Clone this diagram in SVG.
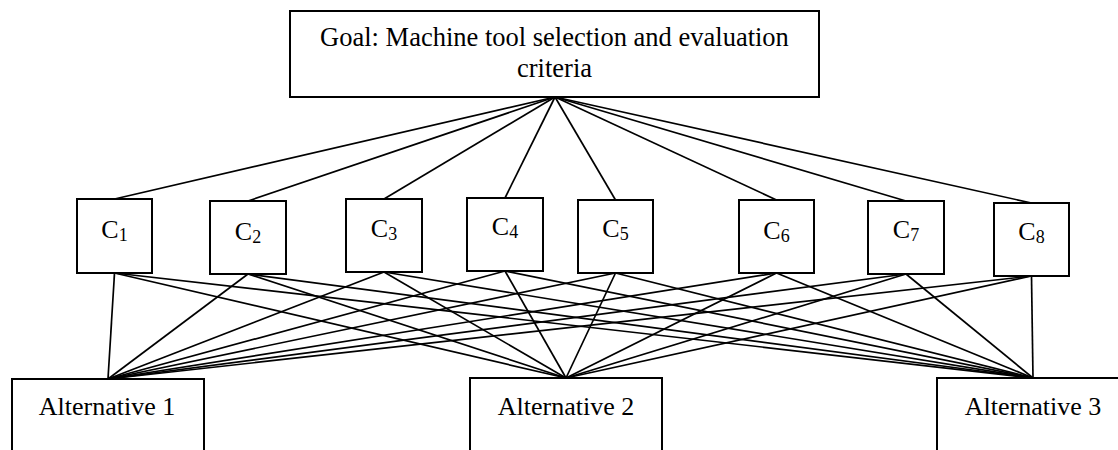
<svg xmlns="http://www.w3.org/2000/svg" width="1118" height="450" viewBox="0 0 1118 450">
<style>
.box{fill:#fff;stroke:#000;stroke-width:2}
.t{font-family:"Liberation Serif","Times New Roman",serif;fill:#000;text-anchor:middle}
.g{font-size:26.5px}
.c{font-size:26px}
.s{font-size:18px}
.a{font-size:26px}
#connectors line{stroke:#000;stroke-width:1.7}
</style>
<rect width="1118" height="450" fill="#fff"/>
<g id="connectors">
<line x1="555" y1="97" x2="114.5" y2="199"/>
<line x1="555" y1="97" x2="248" y2="201"/>
<line x1="555" y1="97" x2="384" y2="199"/>
<line x1="555" y1="97" x2="505" y2="198"/>
<line x1="555" y1="97" x2="615.5" y2="200"/>
<line x1="555" y1="97" x2="776.5" y2="200"/>
<line x1="555" y1="97" x2="906" y2="201"/>
<line x1="555" y1="97" x2="1031.5" y2="203"/>
<line x1="114.5" y1="273" x2="108" y2="379"/>
<line x1="114.5" y1="273" x2="566" y2="378"/>
<line x1="114.5" y1="273" x2="1033" y2="378"/>
<line x1="248" y1="274" x2="108" y2="379"/>
<line x1="248" y1="274" x2="566" y2="378"/>
<line x1="248" y1="274" x2="1033" y2="378"/>
<line x1="384" y1="272" x2="108" y2="379"/>
<line x1="384" y1="272" x2="566" y2="378"/>
<line x1="384" y1="272" x2="1033" y2="378"/>
<line x1="505" y1="271" x2="108" y2="379"/>
<line x1="505" y1="271" x2="566" y2="378"/>
<line x1="505" y1="271" x2="1033" y2="378"/>
<line x1="615.5" y1="273" x2="108" y2="379"/>
<line x1="615.5" y1="273" x2="566" y2="378"/>
<line x1="615.5" y1="273" x2="1033" y2="378"/>
<line x1="776.5" y1="273" x2="108" y2="379"/>
<line x1="776.5" y1="273" x2="566" y2="378"/>
<line x1="776.5" y1="273" x2="1033" y2="378"/>
<line x1="906" y1="274" x2="108" y2="379"/>
<line x1="906" y1="274" x2="566" y2="378"/>
<line x1="906" y1="274" x2="1033" y2="378"/>
<line x1="1031.5" y1="276" x2="108" y2="379"/>
<line x1="1031.5" y1="276" x2="566" y2="378"/>
<line x1="1031.5" y1="276" x2="1033" y2="378"/>
</g>
<g id="goal">
<rect class="box" x="290" y="11" width="529" height="86"/>
<text class="t g" x="554.5" y="45.5">Goal: Machine tool selection and evaluation</text>
<text class="t g" x="554.5" y="77">criteria</text>
</g>
<g id="c1"><rect class="box" x="77" y="199" width="75" height="74"/><text class="t c" x="114.5" y="238">C<tspan class="s" dy="3">1</tspan></text></g>
<g id="c2"><rect class="box" x="210" y="201" width="76" height="73"/><text class="t c" x="248" y="240">C<tspan class="s" dy="3">2</tspan></text></g>
<g id="c3"><rect class="box" x="346" y="199" width="76" height="73"/><text class="t c" x="384" y="237">C<tspan class="s" dy="3">3</tspan></text></g>
<g id="c4"><rect class="box" x="467" y="198" width="76" height="73"/><text class="t c" x="505" y="234.5">C<tspan class="s" dy="3">4</tspan></text></g>
<g id="c5"><rect class="box" x="578" y="200" width="75" height="73"/><text class="t c" x="615.5" y="236.5">C<tspan class="s" dy="3">5</tspan></text></g>
<g id="c6"><rect class="box" x="739" y="200" width="75" height="73"/><text class="t c" x="776.5" y="238.5">C<tspan class="s" dy="3">6</tspan></text></g>
<g id="c7"><rect class="box" x="868" y="201" width="76" height="73"/><text class="t c" x="906" y="237.5">C<tspan class="s" dy="3">7</tspan></text></g>
<g id="c8"><rect class="box" x="994" y="203" width="75" height="73"/><text class="t c" x="1031.5" y="239.5">C<tspan class="s" dy="3">8</tspan></text></g>
<g id="alt1"><rect class="box" x="12" y="379" width="192" height="72"/><text class="t a" x="107" y="414.5">Alternative 1</text></g>
<g id="alt2"><rect class="box" x="470" y="378" width="192" height="73"/><text class="t a" x="566" y="414.5">Alternative 2</text></g>
<g id="alt3"><rect class="box" x="937" y="378" width="192" height="73"/><text class="t a" x="1033" y="414.5">Alternative 3</text></g>
</svg>
